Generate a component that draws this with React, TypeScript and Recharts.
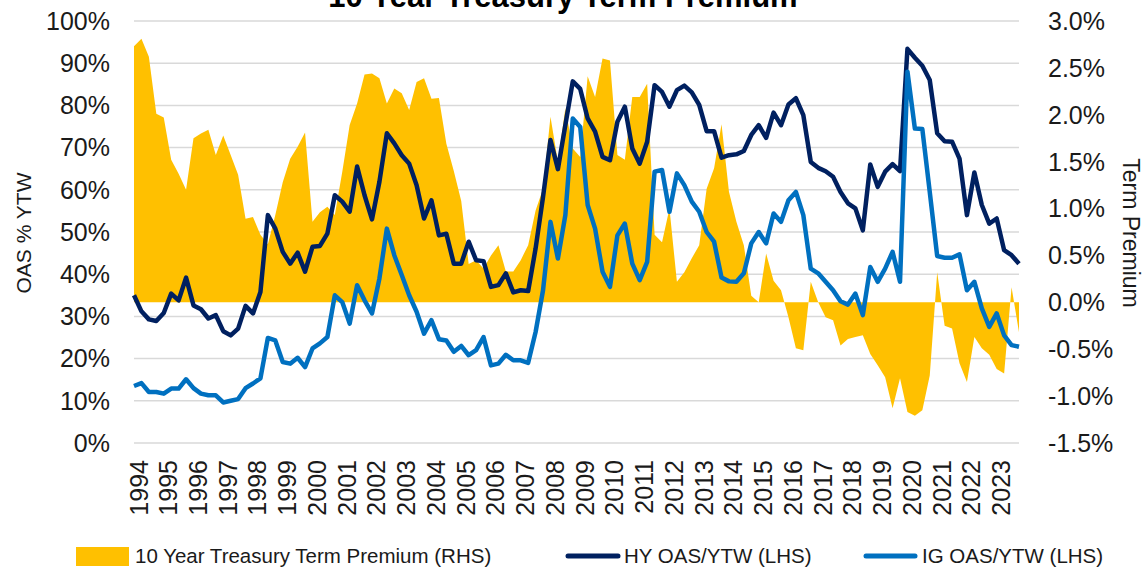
import React from 'react'
import {
  ComposedChart,
  Area,
  Line,
  XAxis,
  YAxis,
  CartesianGrid,
} from 'recharts'

// ── Palette ──────────────────────────────────────────────────────────────────
const GOLD = '#FFC000'
const NAVY = '#002060'
const BLUE = '#0070C0'
const GRID = '#D9D9D9'
const INK = '#1a1a1a'
const FONT = '"Liberation Sans", Arial, sans-serif'

// ── Data (quarterly, 1994Q1 – 2023Q4) ────────────────────────────────────────
const YEARS = [
  1994, 1995, 1996, 1997, 1998, 1999, 2000, 2001, 2002, 2003,
  2004, 2005, 2006, 2007, 2008, 2009, 2010, 2011, 2012, 2013,
  2014, 2015, 2016, 2017, 2018, 2019, 2020, 2021, 2022, 2023,
]
const QUARTERS = YEARS.flatMap((y) => [`${y}Q1`, `${y}Q2`, `${y}Q3`, `${y}Q4`])

// HY OAS as % of YTW (LHS)
const HY_OAS = [
  35.0, 31.2, 29.3, 28.9, 30.8, 35.4, 33.8, 39.2, 32.6, 31.7,
  29.5, 30.3, 26.5, 25.5, 27.1, 32.5, 30.7, 35.8, 54.0, 50.8,
  45.3, 42.5, 45.1, 40.6, 46.5, 46.7, 49.6, 58.7, 57.2, 54.8,
  65.5, 58.7, 53.0, 61.9, 73.4, 71.0, 68.2, 66.2, 61.1, 53.2,
  57.5, 49.2, 49.6, 42.5, 42.5, 47.7, 43.3, 43.1, 37.0, 37.4,
  40.2, 35.7, 36.2, 36.0, 46.1, 58.3, 71.8, 64.9, 75.3, 85.7,
  83.9, 76.9, 73.8, 67.8, 67.0, 76.1, 79.7, 69.8, 66.2, 71.4,
  84.8, 83.2, 79.7, 83.6, 84.7, 83.1, 80.1, 73.9, 73.9, 67.6,
  68.2, 68.4, 69.2, 73.0, 75.3, 72.3, 78.3, 75.3, 80.2, 81.7,
  77.7, 66.6, 65.2, 64.4, 63.1, 59.5, 56.8, 55.6, 50.4, 66.0,
  60.7, 64.3, 66.1, 64.4, 93.4, 91.3, 89.4, 86.0, 73.4, 71.5,
  71.4, 67.4, 54.0, 64.1, 56.4, 52.0, 53.2, 45.7, 44.5, 42.5,
]

// IG OAS as % of YTW (LHS)
const IG_OAS = [
  13.5, 14.2, 12.1, 12.1, 11.7, 12.9, 12.9, 15.1, 13.0, 11.7,
  11.3, 11.3, 9.6, 10.0, 10.4, 13.0, 14.1, 15.3, 24.9, 24.3,
  19.2, 18.8, 20.2, 18.0, 22.4, 23.6, 25.1, 35.0, 33.4, 28.3,
  37.4, 33.8, 30.7, 39.0, 50.8, 44.5, 39.8, 35.0, 31.1, 25.9,
  29.1, 24.6, 24.3, 21.6, 23.0, 20.8, 22.0, 25.1, 18.4, 18.8,
  20.9, 19.6, 19.6, 19.0, 26.3, 36.2, 52.4, 43.7, 54.0, 76.9,
  74.9, 56.4, 50.8, 40.6, 37.0, 49.2, 52.0, 42.5, 38.6, 42.9,
  64.3, 64.7, 54.8, 63.9, 61.1, 57.2, 54.8, 50.0, 47.7, 39.2,
  38.3, 38.2, 40.2, 47.3, 50.0, 47.3, 54.4, 52.4, 57.5, 59.5,
  54.0, 41.3, 40.2, 38.2, 36.2, 33.6, 32.8, 35.4, 30.3, 41.7,
  38.2, 41.3, 45.3, 38.2, 88.0, 74.5, 74.4, 59.5, 44.3, 43.9,
  43.9, 44.7, 36.2, 38.2, 31.9, 27.5, 30.7, 25.5, 23.2, 22.8,
]

// 10Y term premium, % (RHS)
const TERM_PREMIUM = [
  2.73, 2.81, 2.62, 2.01, 1.97, 1.52, 1.37, 1.20, 1.75, 1.80,
  1.84, 1.57, 1.78, 1.57, 1.36, 0.89, 0.91, 0.72, 0.62, 0.93,
  1.28, 1.53, 1.66, 1.81, 0.86, 0.96, 1.02, 0.93, 1.39, 1.89,
  2.12, 2.43, 2.44, 2.39, 2.12, 2.28, 2.23, 2.05, 2.35, 2.39,
  2.17, 2.18, 1.69, 1.40, 1.08, 0.41, 0.45, 0.36, 0.50, 0.61,
  0.33, 0.33, 0.45, 0.61, 0.98, 1.21, 1.98, 1.50, 2.07, 1.64,
  1.55, 2.41, 2.19, 2.60, 2.58, 1.57, 1.52, 2.19, 2.19, 2.33,
  0.72, 0.64, 1.00, 0.22, 0.32, 0.47, 0.61, 1.21, 1.43, 1.90,
  1.18, 0.86, 0.61, 0.07, 0.00, 0.52, 0.23, 0.13, -0.16, -0.49,
  -0.51, 0.22, 0.00, -0.16, -0.19, -0.46, -0.39, -0.37, -0.35, -0.55,
  -0.67, -0.80, -1.13, -0.81, -1.17, -1.21, -1.15, -0.78, 0.32, -0.25,
  -0.28, -0.65, -0.85, -0.37, -0.49, -0.56, -0.71, -0.76, 0.16, -0.32,
]

const LEFT_TICKS = [0, 10, 20, 30, 40, 50, 60, 70, 80, 90, 100]
const RIGHT_TICKS = [-1.5, -1.0, -0.5, 0, 0.5, 1.0, 1.5, 2.0, 2.5, 3.0]

const data = QUARTERS.map((q, i) => ({
  q,
  hy: HY_OAS[i],
  ig: IG_OAS[i],
  tp: TERM_PREMIUM[i],
}))

// ── Layout ───────────────────────────────────────────────────────────────────
const W = 1143
const H = 567

const TICK = { fontSize: 25, fill: INK, fontFamily: FONT }

function YearTick({ x, y, payload }: any) {
  return (
    <text
      transform={`translate(${x + 13.5},${y + 17}) rotate(-90)`}
      textAnchor="end"
      fontSize={25}
      fontFamily={FONT}
      fill={INK}
    >
      {String(payload.value).slice(0, 4)}
    </text>
  )
}

function Overlay() {
  return (
    <svg
      width={W}
      height={H}
      style={{ position: 'absolute', left: 0, top: 0, pointerEvents: 'none' }}
    >
      <text x={563} y={7} textAnchor="middle" fontSize={31} fontWeight="bold" fontFamily={FONT} fill="#000">
        10 Year Treasury Term Premium
      </text>
      <text transform="translate(31,233) rotate(-90)" textAnchor="middle" fontSize={21} fontFamily={FONT} fill={INK}>
        OAS % YTW
      </text>
      <text transform="translate(1123,233) rotate(90)" textAnchor="middle" fontSize={23} fontFamily={FONT} fill={INK}>
        Term Premium
      </text>

      {/* legend */}
      <rect x={76} y={547} width={53} height={19} fill={GOLD} />
      <text x={135} y={563} fontSize={20.5} fontFamily={FONT} fill={INK}>
        10 Year Treasury Term Premium (RHS)
      </text>
      <line x1={568} x2={618} y1={556} y2={556} stroke={NAVY} strokeWidth={5} strokeLinecap="round" />
      <text x={624} y={563} fontSize={20.5} fontFamily={FONT} fill={INK}>
        HY OAS/YTW (LHS)
      </text>
      <line x1={866} x2={915} y1={556} y2={556} stroke={BLUE} strokeWidth={5} strokeLinecap="round" />
      <text x={922} y={563} fontSize={20.5} fontFamily={FONT} fill={INK}>
        IG OAS/YTW (LHS)
      </text>
    </svg>
  )
}

export default function App() {
  return (
    <div
      style={{
        position: 'absolute',
        left: 0,
        top: 0,
        width: W,
        height: H,
        background: '#fff',
        overflow: 'hidden',
      }}
    >
      <ComposedChart width={W} height={H} data={data} margin={{ top: 21, right: 0, bottom: 0, left: 0 }}>
        <CartesianGrid yAxisId="left" vertical={false} stroke={GRID} strokeWidth={1.5} />
        <XAxis
          dataKey="q"
          scale="point"
          padding={{ left: 0, right: 0 }}
          interval={3}
          tick={<YearTick />}
          tickLine={false}
          axisLine={false}
          tickSize={0}
          tickMargin={0}
          height={124}
        />
        <YAxis
          yAxisId="left"
          domain={[0, 100]}
          ticks={LEFT_TICKS}
          tickFormatter={(v) => `${v}%`}
          tick={TICK}
          tickLine={false}
          axisLine={false}
          tickSize={0}
          tickMargin={24}
          width={134}
        />
        <YAxis
          yAxisId="right"
          orientation="right"
          domain={[-1.5, 3]}
          ticks={RIGHT_TICKS}
          tickFormatter={(v) => `${Number(v).toFixed(1)}%`}
          tick={TICK}
          tickLine={false}
          axisLine={false}
          tickSize={0}
          tickMargin={29}
          width={124}
        />
        <Area
          yAxisId="right"
          dataKey="tp"
          type="linear"
          baseValue={0}
          fill={GOLD}
          fillOpacity={1}
          stroke="none"
          isAnimationActive={false}
        />
        <Line
          yAxisId="left"
          dataKey="hy"
          type="linear"
          stroke={NAVY}
          strokeWidth={4.5}
          strokeLinejoin="round"
          dot={false}
          activeDot={false}
          isAnimationActive={false}
        />
        <Line
          yAxisId="left"
          dataKey="ig"
          type="linear"
          stroke={BLUE}
          strokeWidth={4.5}
          strokeLinejoin="round"
          dot={false}
          activeDot={false}
          isAnimationActive={false}
        />
      </ComposedChart>
      <Overlay />
    </div>
  )
}
